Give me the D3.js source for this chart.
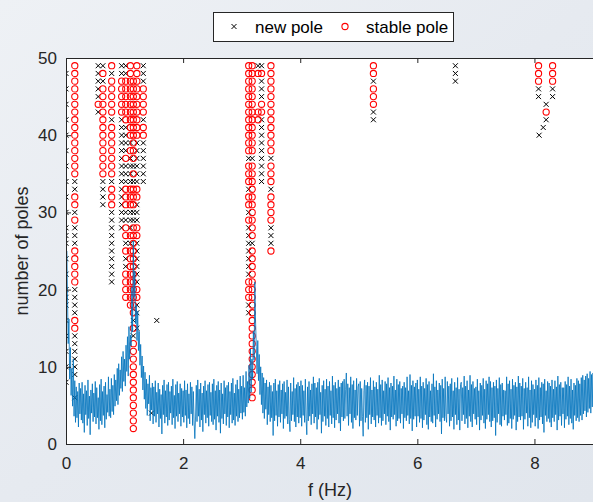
<!DOCTYPE html>
<html>
<head>
<meta charset="utf-8">
<script src="https://cdn.jsdelivr.net/npm/d3@7"></script>
<style>
  body { margin: 0; }
  svg { display: block; font-family: "Liberation Sans", Arial, sans-serif; }
</style>
</head>
<body>
<div id="chart"></div>
<script>
var svgWidth = 593;
var svgHeight = 502;

var margin = { top: 58, right: 0, bottom: 58, left: 66 };
var width = 527;
var height = svgHeight - margin.top - margin.bottom;

// axis ticks
var xTicks = [0, 2, 4, 6, 8];
var yTicks = [0, 10, 20, 30, 40, 50];

// spectrum, sampled every 0.0125 Hz from 0 Hz (one line = 0.25 Hz)
var specStep = 0.0125;
var specValues = [
  5.5, 25.0, 19.5, 13.0, 16.2, 8.4, 12.5, 6.3, 9.8, 4.9, 11.0, 3.6, 8.2, 2.8, 7.4, 3.4, 6.8, 2.2, 7.9, 3.9,
  7.2, 3.1, 8.0, 2.7, 6.5, 1.5, 7.6, 3.8, 6.9, 2.4, 8.3, 3.3, 6.2, 1.2, 7.0, 4.0, 7.8, 2.9, 6.6, 3.5,
  8.1, 2.6, 7.3, 3.4, 6.0, 1.9, 7.7, 3.0, 8.4, 2.5, 6.8, 3.7, 7.5, 2.1, 8.0, 3.2, 6.4, 4.1, 8.7, 3.6,
  7.1, 3.4, 8.5, 4.2, 7.6, 3.8, 9.0, 4.9, 8.3, 5.6, 9.8, 5.1, 10.4, 6.3, 9.6, 7.2, 11.3, 6.8, 12.0, 8.1,
  11.0, 7.5, 12.8, 9.4, 13.9, 8.8, 15.2, 11.0, 14.1, 12.7, 20.3, 14.5, 26.3, 19.0, 22.4, 15.6, 18.0, 13.4, 17.2, 12.1,
  14.6, 10.2, 12.9, 8.6, 11.4, 7.0, 10.1, 5.8, 9.3, 4.6, 8.4, 3.7, 7.8, 5.2, 8.9, 3.0, 7.3, 4.4, 7.9, 2.6,
  7.4, 3.6, 8.2, 2.8, 6.7, 3.9, 7.9, 2.2, 7.1, 3.3, 6.4, 1.3, 7.6, 3.8, 8.3, 2.7, 6.9, 3.5, 7.7, 2.4,
  8.0, 3.1, 6.8, 4.0, 7.5, 2.5, 8.4, 3.4, 6.3, 2.0, 7.7, 3.6, 8.1, 2.9, 6.6, 3.9, 7.8, 2.3, 7.2, 3.5,
  6.9, 2.8, 8.2, 3.7, 7.0, 2.1, 7.8, 3.3, 6.5, 2.6, 8.0, 3.9, 7.4, 2.4, 6.8, 3.0, 0.7, 3.5, 7.6, 2.9,
  8.3, 3.6, 7.1, 2.2, 7.9, 3.1, 6.6, 1.6, 7.5, 3.8, 8.2, 2.7, 6.9, 3.4, 7.7, 2.3, 8.0, 3.7, 6.7, 2.9,
  7.8, 2.5, 8.4, 3.2, 6.9, 1.8, 7.6, 3.6, 8.1, 2.8, 7.0, 1.4, 7.9, 3.3, 6.5, 2.6, 8.2, 3.9, 7.3, 2.4,
  7.6, 3.5, 8.0, 2.1, 6.8, 3.8, 7.9, 2.7, 8.5, 3.1, 6.6, 2.4, 7.7, 3.6, 8.3, 2.9, 7.1, 3.4, 8.8, 4.0,
  7.5, 3.2, 8.9, 4.1, 7.3, 3.6, 9.4, 4.8, 8.1, 5.3, 10.2, 5.9, 12.3, 6.7, 11.0, 8.4, 14.6, 10.9, 21.0, 15.8,
  12.6, 9.1, 13.4, 8.2, 11.6, 6.4, 10.0, 5.1, 9.2, 4.0, 8.6, 3.3, 7.9, 4.5, 8.3, 2.5, 7.4, 3.8, 8.0, 2.9,
  7.6, 3.4, 6.8, 1.1, 7.9, 3.0, 8.4, 3.7, 6.9, 2.3, 7.7, 3.5, 8.2, 2.8, 7.0, 3.9, 7.8, 2.0, 8.1, 3.3,
  6.7, 3.6, 8.3, 2.6, 7.4, 3.2, 1.6, 7.9, 3.0, 6.8, 3.8, 8.6, 2.9, 7.2, 2.2, 7.7, 3.5, 8.0, 2.7, 7.5,
  3.4, 8.2, 2.3, 7.6, 3.7, 6.9, 2.8, 8.4, 3.3, 1.2, 7.4, 3.0, 8.1, 3.6, 7.0, 2.5, 7.8, 3.9, 8.7, 2.7,
  7.9, 3.5, 7.3, 1.9, 8.0, 3.2, 8.5, 3.8, 6.7, 1.4, 7.6, 2.9, 8.2, 3.6, 7.1, 2.4, 8.4, 3.3, 7.5, 2.2,
  8.1, 3.7, 6.9, 2.6, 8.8, 3.4, 7.6, 2.1, 8.0, 3.1, 7.2, 3.9, 8.3, 2.7, 7.4, 1.7, 7.9, 3.5, 8.1, 3.0,
  8.4, 3.3, 7.1, 9.2, 3.6, 7.8, 2.4, 7.3, 3.9, 8.7, 2.8, 7.7, 2.0, 8.2, 3.4, 7.0, 3.1, 8.5, 3.7, 7.4,
  7.8, 2.3, 8.1, 3.0, 7.2, 3.6, 1.0, 6.9, 8.3, 2.8, 7.6, 3.4, 8.0, 1.9, 7.5, 3.8, 8.6, 2.6, 7.0, 3.5,
  8.2, 3.1, 7.4, 2.2, 8.0, 3.7, 7.1, 2.7, 8.9, 3.4, 7.7, 2.4, 8.3, 3.0, 6.9, 3.9, 8.1, 2.5, 7.8, 3.6,
  8.6, 2.9, 7.3, 1.8, 7.9, 3.5, 7.5, 3.2, 8.8, 3.8, 7.0, 2.3, 8.4, 3.0, 7.7, 3.3, 8.1, 2.7, 7.2, 3.9,
  7.5, 2.0, 8.0, 3.4, 7.3, 3.0, 8.7, 3.7, 6.9, 2.6, 9.0, 3.3, 7.6, 1.7, 8.2, 3.2, 7.4, 3.6, 7.9, 2.2,
  8.3, 3.6, 7.1, 2.8, 8.7, 3.3, 7.5, 2.1, 8.0, 3.1, 7.2, 3.8, 8.5, 2.5, 7.7, 1.9, 8.1, 3.5, 6.9, 2.9,
  7.8, 2.7, 9.1, 3.7, 7.4, 2.2, 8.2, 3.2, 7.0, 3.9, 7.9, 2.9, 7.6, 1.3, 8.4, 3.4, 7.2, 3.0, 8.7, 3.6,
  2.8, 8.1, 3.9, 7.5, 2.3, 7.8, 3.0, 8.5, 3.5, 6.9, 1.9, 8.0, 3.8, 7.3, 2.5, 8.6, 3.1, 7.1, 1.8, 7.7,
  8.0, 3.0, 7.3, 3.8, 8.8, 2.6, 7.5, 3.3, 8.2, 2.1, 7.0, 3.6, 8.9, 2.9, 7.7, 2.2, 8.1, 3.9, 7.2, 3.2,
  7.4, 2.5, 8.4, 3.5, 6.9, 1.8, 7.9, 3.1, 7.6, 3.7, 8.5, 2.7, 7.1, 2.0, 8.2, 3.2, 7.8, 3.8, 8.7, 2.9,
  8.1, 2.2, 7.3, 3.0, 8.0, 3.4, 7.5, 1.1, 8.3, 2.8, 7.2, 3.9, 8.6, 2.5, 7.7, 2.3, 7.9, 3.6, 7.0, 3.1,
  6.9, 3.8, 8.7, 2.4, 7.8, 2.7, 8.2, 3.3, 7.1, 2.0, 8.4, 3.2, 7.6, 3.7, 8.0, 1.8, 7.4, 2.9, 8.8, 3.5,
  7.9, 3.1, 7.5, 3.6, 8.5, 1.9, 7.2, 3.2, 8.0, 4.0, 7.3, 2.3, 8.7, 3.4, 7.0, 2.1, 8.2, 2.8, 7.7, 3.8,
  7.1, 2.3, 8.3, 3.4, 7.6, 2.0, 8.6, 3.1, 7.3, 3.5, 8.0, 2.6, 7.8, 1.5, 8.4, 3.7, 6.9, 2.9, 8.1, 3.3,
  7.9, 2.8, 7.5, 2.2, 8.3, 3.4, 7.1, 2.9, 8.2, 3.8, 7.4, 1.8, 8.8, 3.1, 7.7, 3.6, 8.0, 2.4, 7.3, 3.9,
  7.3, 2.1, 8.1, 3.2, 7.7, 3.6, 8.7, 2.5, 7.5, 3.3, 8.4, 2.7, 7.0, 1.9, 7.9, 3.7, 7.6, 3.0, 8.5, 3.4,
  8.2, 2.9, 7.8, 3.7, 8.6, 3.1, 8.9, 3.9, 8.3, 4.3, 8.8, 3.5, 9.1, 4.1, 8.5, 4.6, 9.4, 4.0, 9.0, 4.8,
  9.2, 4.2, 8.7, 4.8, 9.5, 4.3, 9.1, 4.1, 8.8, 4.7, 9.3, 4.4, 8.9, 4.9, 9.2, 4.5, 8.8
];

// stabilization poles: one string per frequency, model order 49 downwards
// x = new pole, o = stable pole, . = none
var topOrder = 49;
var poleFreqs = [
  0.0, 0.15, 0.55, 0.63, 0.78, 0.95, 1.02, 1.10, 1.15, 1.21, 1.32, 1.46, 1.55,
  3.12, 3.18, 3.28, 3.34, 3.50, 5.25, 6.65, 8.07, 8.08, 8.15, 8.20, 8.31
];
var poleMarks = [
  ".x.x.x.x.x.x.x.x.x.x.xxx.x.x.xxx.x.x.x.x.x",
  "ooooooooooooooo" + "xxooxoxxx" + "ooooo" + "xxxx" + "oo" + "xxxxxx" + "..x",
  "xxxxxox",
  "xoxoooooooooooo" + "xxxx",
  "oxooooox" + "ooooooo" + "xooo" + "x" + "xxxxxxxxx",
  "xxooooo" + "xxxxxxxxxxxxxxx",
  "xxoooooo" + "xxxxoxxxooo" + "xxooxoxxoooo",
  "oooooooooo" + "xoxxxxooo" + "xxxoxoooooooo",
  "..ooooooooooo" + "xoxooo" + "xxoooooooooooo" + "xoxoooooooooooo",
  "oooooooooo" + "xxxxxxoo" + "xxxoo" + "xxxxxxoo" + "xx.x",
  "xxxooooxooxxxxxx",
  ".............................................x",
  ".................................x",
  "oooooooooooo" + "xoooxooxo" + "xxxxxxxooo" + "xx",
  "oooooooooooo" + "xoooooooooo" + "xoooooooooooooooooooo",
  "xo....oo",
  "xoxxxooxxxxxxxxx",
  "oooooooooooo" + "xoooxoooo" + "xxxo",
  "ooxoooxx",
  "xxx",
  "oooxx",
  ".........x",
  "........x",
  ".....xox",
  "oooxx"
];

var legendLabels = ["new pole", "stable pole"];

var svg = d3.select("#chart")
  .append("svg")
  .attr("width", svgWidth)
  .attr("height", svgHeight);

// figure background
var defs = svg.append("defs");
var grad = defs.append("linearGradient")
  .attr("id", "bg")
  .attr("x1", "0").attr("y1", "0")
  .attr("x2", "1").attr("y2", "1");
grad.append("stop").attr("offset", "0").attr("stop-color", "#eef1f5");
grad.append("stop").attr("offset", "0.5").attr("stop-color", "#e6eaf0");
grad.append("stop").attr("offset", "1").attr("stop-color", "#e1e6ed");
svg.append("rect")
  .attr("width", svgWidth)
  .attr("height", svgHeight)
  .attr("fill", "url(#bg)");

defs.append("clipPath").attr("id", "plotclip")
  .append("rect")
  .attr("width", width)
  .attr("height", height);

var chartGroup = svg.append("g")
  .attr("transform", `translate(${margin.left}, ${margin.top})`);

var xScale = d3.scaleLinear().domain([0, 9]).range([0, width]);
var yScale = d3.scaleLinear().domain([0, 50]).range([height, 0]);

chartGroup.append("rect")
  .attr("width", width)
  .attr("height", height)
  .attr("fill", "#ffffff");

// poles
var poles = [];
poleFreqs.forEach(function(f, i) {
  poleMarks[i].split("").forEach(function(c, k) {
    var order = topOrder - k;
    if (c !== "." && order >= 1) poles.push({ f: f, order: order, kind: c });
  });
});

var poleGroup = chartGroup.append("g").attr("clip-path", "url(#plotclip)");

poleGroup.selectAll("path.newpole")
  .data(poles.filter(d => d.kind === "x"))
  .enter()
  .append("path")
  .attr("class", "newpole")
  .attr("transform", d => `translate(${xScale(d.f)}, ${yScale(d.order)})`)
  .attr("d", "M-2.5,-2.5L2.5,2.5M-2.5,2.5L2.5,-2.5")
  .attr("stroke", "#000000")
  .attr("stroke-width", 1);

poleGroup.selectAll("circle.stablepole")
  .data(poles.filter(d => d.kind === "o"))
  .enter()
  .append("circle")
  .attr("class", "stablepole")
  .attr("cx", d => xScale(d.f))
  .attr("cy", d => yScale(d.order))
  .attr("r", 3.1)
  .attr("fill", "none")
  .attr("stroke", "#ff0000")
  .attr("stroke-width", 1.1);

// spectrum
var line = d3.line()
  .x((d, i) => xScale(i * specStep))
  .y(d => yScale(d));

chartGroup.append("path")
  .datum(specValues)
  .attr("clip-path", "url(#plotclip)")
  .attr("d", line)
  .attr("fill", "none")
  .attr("stroke", "#0072bd")
  .attr("stroke-width", 0.8)
  .attr("stroke-linejoin", "round");

// axes
var axisColor = "#262626";

var bottomAxis = d3.axisBottom(xScale).tickValues(xTicks).tickSize(-5).tickPadding(9).tickFormat(d3.format("d"));
var topAxis = d3.axisTop(xScale).tickValues(xTicks).tickSize(-5).tickFormat("");
var leftAxis = d3.axisLeft(yScale).tickValues(yTicks).tickSize(-5).tickPadding(9);

var xAxis = chartGroup.append("g")
  .attr("transform", `translate(0, ${height})`)
  .call(bottomAxis);
var xTop = chartGroup.append("g").call(topAxis);
var yAxis = chartGroup.append("g").call(leftAxis);

[xAxis, xTop, yAxis].forEach(function(g) {
  g.select(".domain").attr("stroke", axisColor).attr("stroke-width", 1);
  g.selectAll(".tick line").attr("stroke", axisColor);
  g.selectAll(".tick text")
    .attr("fill", axisColor)
    .style("font-size", "17px")
    .style("font-family", "'Liberation Sans', Arial, sans-serif");
});
xAxis.selectAll(".tick text").attr("dy", "0.95em");

// X axis label
chartGroup.append("text")
  .attr("x", 264)
  .attr("y", height + 52)
  .attr("text-anchor", "middle")
  .attr("fill", axisColor)
  .style("font-size", "18px")
  .text("f (Hz)");

// Y axis label
chartGroup.append("text")
  .attr("transform", "rotate(-90)")
  .attr("x", -height / 2)
  .attr("y", -38)
  .attr("text-anchor", "middle")
  .attr("fill", axisColor)
  .style("font-size", "18px")
  .text("number of poles");

// legend
var legend = svg.append("g").attr("transform", "translate(213, 12)");
legend.append("rect")
  .attr("x", 0.5).attr("y", 0.5)
  .attr("width", 240)
  .attr("height", 29)
  .attr("fill", "#ffffff")
  .attr("stroke", axisColor)
  .attr("stroke-width", 1);
legend.append("path")
  .attr("transform", "translate(21, 14.5)")
  .attr("d", "M-2.5,-2.5L2.5,2.5M-2.5,2.5L2.5,-2.5")
  .attr("stroke", "#000000");
legend.append("circle")
  .attr("cx", 132).attr("cy", 14.5).attr("r", 3.1)
  .attr("fill", "none").attr("stroke", "#ff0000").attr("stroke-width", 1.1);
legend.selectAll("text.lbl")
  .data(legendLabels)
  .enter()
  .append("text")
  .attr("class", "lbl")
  .attr("x", (d, i) => i === 0 ? 42 : 153)
  .attr("y", 20.5)
  .attr("fill", "#000000")
  .style("font-size", "17px")
  .text(d => d);
</script>
</body>
</html>
